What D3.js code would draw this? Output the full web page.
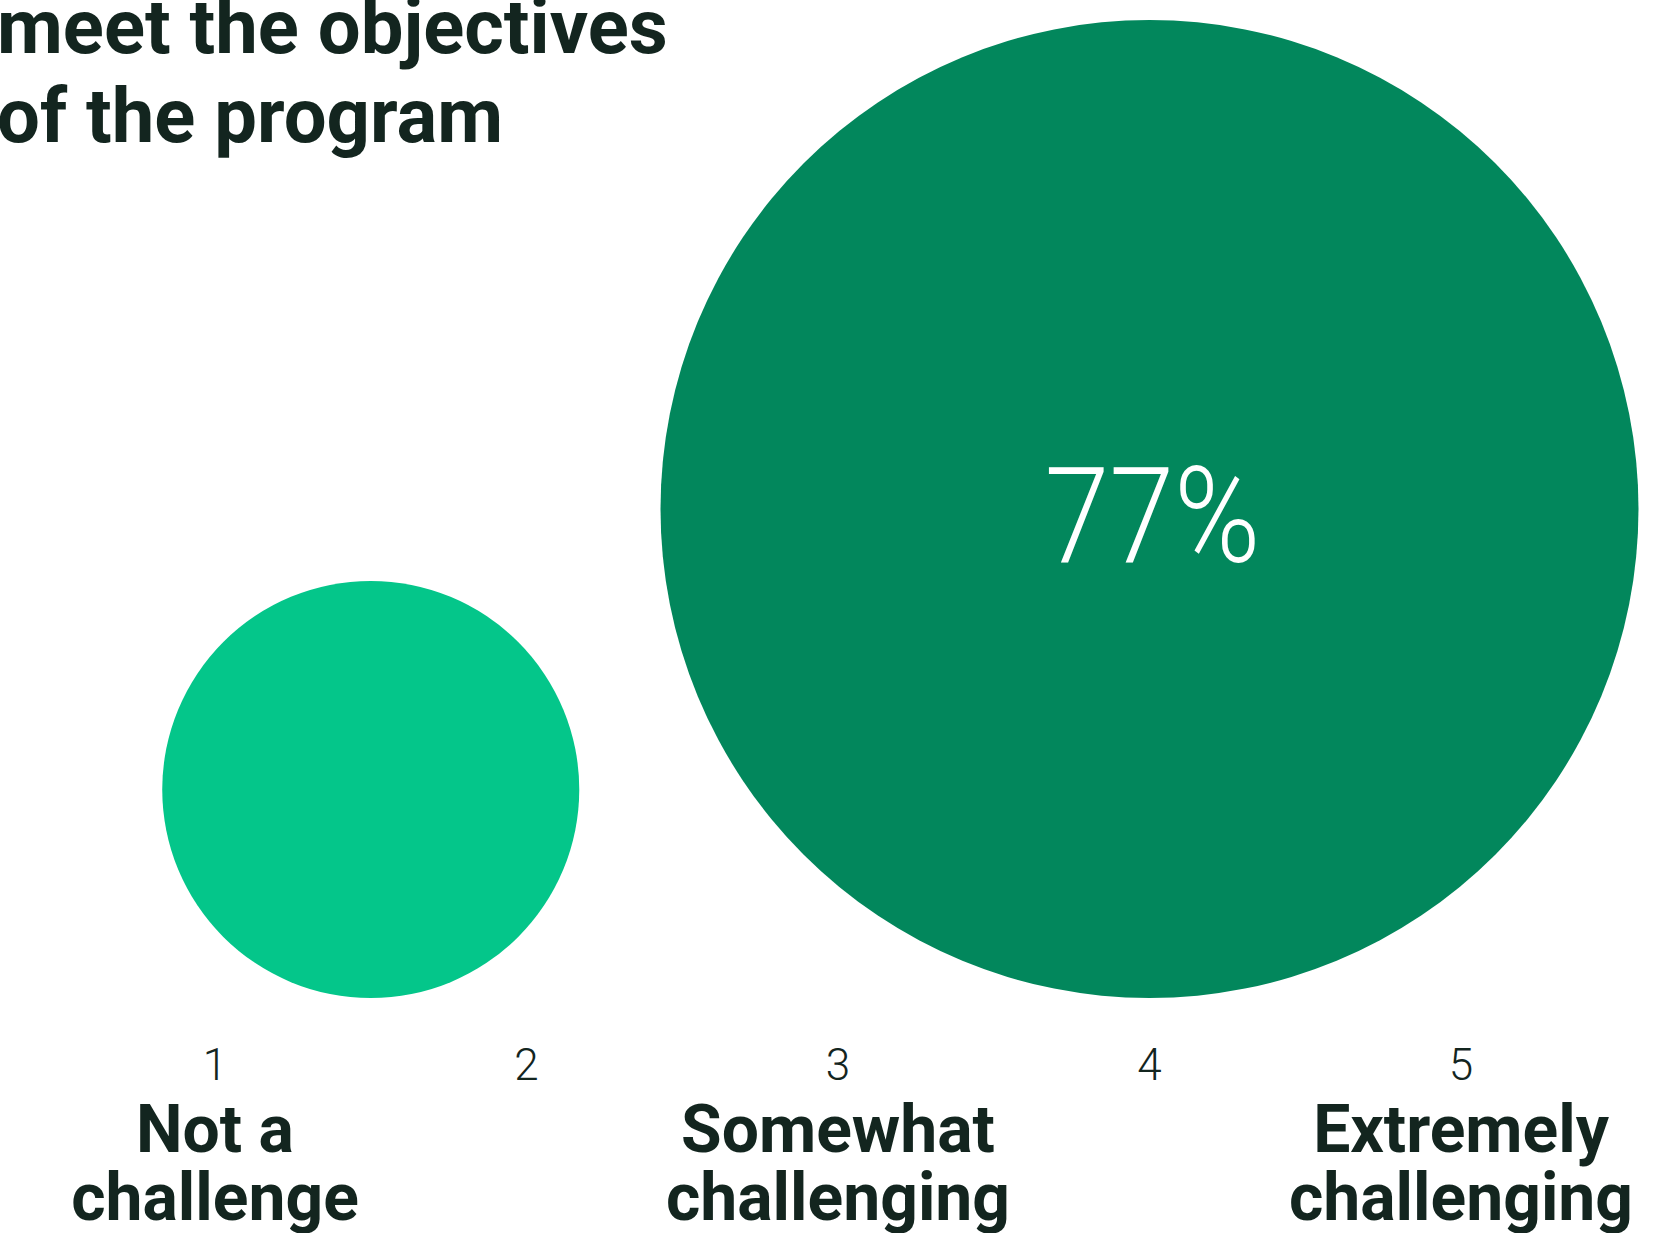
<!DOCTYPE html>
<html>
<head>
<meta charset="utf-8">
<script src="https://cdn.jsdelivr.net/npm/d3@7"></script>
<style>
  html, body { margin: 0; padding: 0; background: #ffffff; }
  svg { display: block; }
</style>
</head>
<body>
<svg id="chart" width="1653" height="1233"></svg>
<script>
// Rating scale shown along the bottom
const scalePoints = [1, 2, 3, 4, 5];
const scaleLabels = [["Not a", "challenge"], [], ["Somewhat", "challenging"], [], ["Extremely", "challenging"]];

// Bubbles: position on the rating scale and share of respondents (%)
const bubblePositions = [1.5, 4];
const bubbleShares = [14, 77];
const bubbleLabels = ["", "77%"];
const bubbleColors = ["#04c68a", "#02875c"];

const titleLines = ["meet the objectives", "of the program"];

const ink = "#13251f";
const svg = d3.select("#chart");

const x = d3.scaleLinear().domain([1, 5]).range([215, 1461]);
const r = d3.scaleSqrt().domain([0, 77]).range([0, 489]);
const baseY = 998;

// Title (continues from above the visible area)
svg.append("g")
  .selectAll("text")
  .data(titleLines)
  .join("text")
  .attr("x", -3)
  .attr("y", (d, i) => 53 + i * 89)
  .attr("font-family", "Roboto, 'Noto Sans', sans-serif")
  .attr("font-weight", 700)
  .attr("font-size", 76)
  .attr("fill", ink)
  .text(d => d);

// Bubbles sit on a shared baseline
const bubbles = svg.append("g")
  .selectAll("g")
  .data(bubbleShares.map((v, i) => ({ v, pos: bubblePositions[i], label: bubbleLabels[i], color: bubbleColors[i] })))
  .join("g");

bubbles.append("circle")
  .attr("cx", d => x(d.pos))
  .attr("cy", d => baseY - r(d.v))
  .attr("r", d => r(d.v))
  .attr("fill", d => d.color);

bubbles.filter(d => d.label)
  .append("text")
  .attr("x", d => x(d.pos) + 3)
  .attr("y", d => baseY - r(d.v) + 53)
  .attr("text-anchor", "middle")
  .attr("font-family", "Roboto, 'Noto Sans', sans-serif")
  .attr("font-weight", 300)
  .attr("font-size", 134)
  .attr("fill", "#ffffff")
  .attr("textLength", 216)
  .attr("lengthAdjust", "spacingAndGlyphs")
  .text(d => d.label);

// Scale numbers
const axis = svg.append("g");
axis.selectAll("text.num")
  .data(scalePoints)
  .join("text")
  .attr("class", "num")
  .attr("x", d => x(d))
  .attr("y", 1080)
  .attr("text-anchor", "middle")
  .attr("font-family", "Roboto, 'Noto Sans', sans-serif")
  .attr("font-weight", 300)
  .attr("font-size", 44)
  .attr("fill", ink)
  .text(d => d);

// Scale anchor labels
axis.selectAll("text.lab")
  .data(scalePoints.map((p, i) => ({ p, lines: scaleLabels[i] })).filter(d => d.lines.length))
  .join("text")
  .attr("class", "lab")
  .attr("text-anchor", "middle")
  .attr("font-family", "Roboto, 'Noto Sans', sans-serif")
  .attr("font-weight", 700)
  .attr("font-size", 66)
  .attr("fill", ink)
  .selectAll("tspan")
  .data(d => d.lines.map(l => ({ l, p: d.p })))
  .join("tspan")
  .attr("x", d => x(d.p))
  .attr("y", (d, i) => 1152 + i * 68)
  .text(d => d.l);
</script>
</body>
</html>
